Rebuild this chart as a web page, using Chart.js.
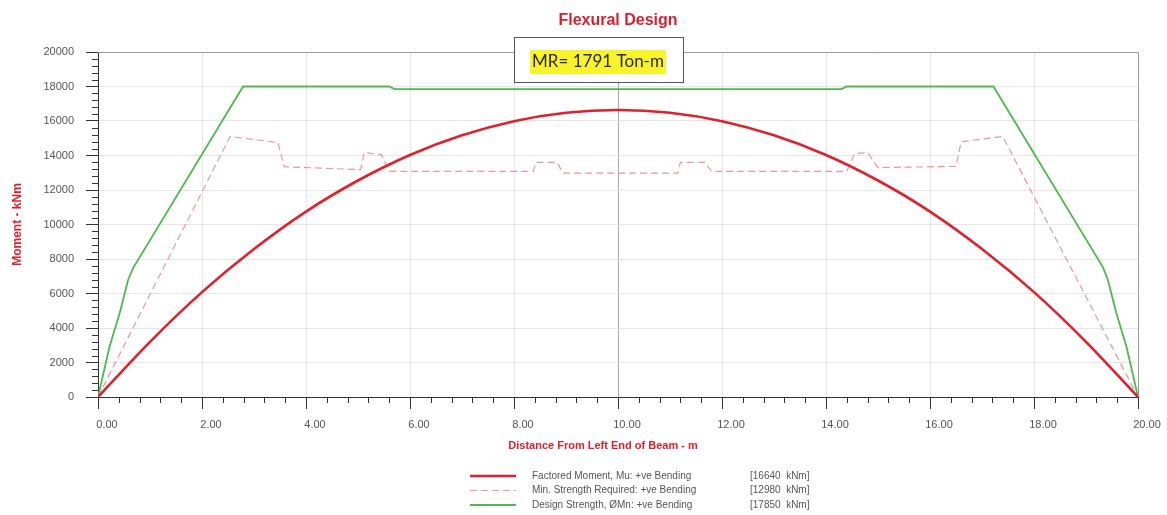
<!DOCTYPE html>
<html><head><meta charset="utf-8">
<script src="https://cdn.jsdelivr.net/npm/chart.js@4.4.1/dist/chart.umd.min.js"></script>
<style>html,body{margin:0;padding:0;background:#fff}canvas{display:block}</style>
</head><body>
<canvas id="c" width="1167" height="515"></canvas>
<script>
// ---------- data ----------
const chartTitle = 'Flexural Design';
const annotationText = 'MR= 1791 Ton-m';
const xAxisTitle = 'Distance From Left End of Beam - m';
const yAxisTitle = 'Moment - kNm';
const seriesNames = [
  'Factored Moment, Mu: +ve Bending',
  'Min. Strength Required: +ve Bending',
  'Design Strength, ØMn: +ve Bending'
];
const legendValues = ['[16640  kNm]', '[12980  kNm]', '[17850  kNm]'];

const xTickValues = [0, 2, 4, 6, 8, 10, 12, 14, 16, 18, 20];
const xTickLabels = ['0.00', '2.00', '4.00', '6.00', '8.00', '10.00', '12.00', '14.00', '16.00', '18.00', '20.00'];
const yTickValues = [0, 2000, 4000, 6000, 8000, 10000, 12000, 14000, 16000, 18000, 20000];
const yTickLabels = ['0', '2000', '4000', '6000', '8000', '10000', '12000', '14000', '16000', '18000', '20000'];

// Factored moment Mu
const momentX = [0, 1, 2, 3, 4, 5, 6, 7, 8, 9, 10, 11, 12, 13, 14, 15, 16, 17, 18, 19, 20];
const momentY = [0, 3200, 6080, 8580, 10750, 12550, 14030, 15170, 15990, 16480, 16640, 16480, 15990, 15170, 14030, 12550, 10750, 8580, 6080, 3200, 0];

// Min. strength required
const minX = [0, 2.54, 3.46, 3.58, 5.05, 5.12, 5.45, 5.6, 8.37, 8.42, 8.83, 8.94, 11.15, 11.2, 11.67, 11.8, 14.4, 14.55, 14.8, 15.0, 16.5, 16.6, 17.4, 20];
const minY = [0, 15100, 14750, 13350, 13180, 14170, 14050, 13080, 13080, 13600, 13600, 12980, 12980, 13600, 13600, 13080, 13080, 14110, 14170, 13300, 13370, 14800, 15100, 0];

// Design strength
const designX = [0, 0.22, 0.42, 0.58, 0.68, 2.79, 5.6, 5.7, 14.3, 14.4, 17.22, 19.33, 19.42, 19.58, 19.78, 20];
const designY = [0, 2900, 4900, 6800, 7500, 18000, 18000, 17850, 17850, 18000, 18000, 7500, 6800, 4900, 2900, 0];

// ---------- helpers ----------
const pts = (xs, ys) => xs.map((v, i) => ({x: v, y: ys[i]}));
const RED = '#e0202c';
const FONT = '"Liberation Sans", Arial, sans-serif';

const decor = {
  id: 'decor',
  beforeDraw(chart) {
    const {ctx} = chart;
    ctx.save();
    ctx.fillStyle = '#fff';
    ctx.fillRect(0, 0, chart.width, chart.height);
    ctx.restore();
  },
  afterDraw(chart) {
    const {ctx, chartArea: a, scales: {x, y}} = chart;
    ctx.save();
    // top & right frame
    ctx.strokeStyle = '#9a9a9a';
    ctx.lineWidth = 1;
    ctx.beginPath();
    ctx.moveTo(a.left, a.top + 0.5);
    ctx.lineTo(a.right + 0.5, a.top + 0.5);
    ctx.lineTo(a.right + 0.5, a.bottom);
    ctx.stroke();

    // minor ticks
    ctx.strokeStyle = '#333';
    ctx.beginPath();
    for (let k = 0; k <= 50; k++) {
      if (k % 5 === 0) continue;
      const py = Math.round(y.getPixelForValue(k * 400)) + 0.5;
      ctx.moveTo(a.left - 6, py); ctx.lineTo(a.left, py);
      const px = Math.round(x.getPixelForValue(k * 0.4)) + 0.5;
      ctx.moveTo(px, a.bottom); ctx.lineTo(px, a.bottom + 6);
    }
    ctx.stroke();

    // title
    ctx.fillStyle = '#d81f30';
    ctx.textAlign = 'center';
    ctx.textBaseline = 'middle';
    ctx.font = 'bold 16px ' + FONT;
    ctx.fillText(chartTitle, (a.left + a.right) / 2, 21);

    // axis titles
    ctx.fillStyle = RED;
    ctx.font = 'bold 11px ' + FONT;
    ctx.fillText(xAxisTitle, 603, 446);
    ctx.save();
    ctx.translate(18, (a.top + a.bottom) / 2);
    ctx.rotate(-Math.PI / 2);
    ctx.font = 'bold 12px ' + FONT;
    ctx.fillText(yAxisTitle, 0, 0);
    ctx.restore();

    // annotation box
    ctx.fillStyle = '#fff';
    ctx.fillRect(514, 37, 169, 45);
    ctx.strokeStyle = '#555';
    ctx.strokeRect(514.5, 37.5, 169, 45);
    ctx.font = '17px Lato, "Open Sans", sans-serif';
    const tw = ctx.measureText(annotationText).width;
    ctx.fillStyle = '#f8f32b';
    ctx.fillRect(598 - tw / 2 - 2, 50, tw + 4, 24);
    ctx.fillStyle = '#2b2b14';
    ctx.fillText(annotationText, 598, 62);

    // legend
    const ds = chart.data.datasets;
    ctx.font = '10px ' + FONT;
    ctx.textAlign = 'left';
    ds.forEach((d, i) => {
      const ry = 476 + i * 14.5;
      ctx.save();
      ctx.strokeStyle = d.borderColor;
      ctx.lineWidth = d.borderWidth;
      ctx.setLineDash(d.borderDash || []);
      ctx.beginPath();
      ctx.moveTo(470, ry); ctx.lineTo(516, ry);
      ctx.stroke();
      ctx.restore();
      ctx.fillStyle = '#555';
      ctx.fillText(seriesNames[i], 532, ry);
      ctx.fillText(legendValues[i], 750, ry);
    });
    ctx.restore();
  }
};

new Chart(document.getElementById('c'), {
  type: 'line',
  data: {
    datasets: [
      {label: seriesNames[0], data: pts(momentX, momentY), borderColor: RED, borderWidth: 2.6,
       pointRadius: 0, cubicInterpolationMode: 'monotone', fill: false},
      {label: seriesNames[1], data: pts(minX, minY), borderColor: '#ee949e', borderWidth: 1.2,
       borderDash: [7, 4], pointRadius: 0, tension: 0, fill: false},
      {label: seriesNames[2], data: pts(designX, designY), borderColor: '#4cba4c', borderWidth: 1.8,
       pointRadius: 0, tension: 0, fill: false}
    ]
  },
  options: {
    responsive: false,
    animation: false,
    layout: {padding: {left: 0, right: 29, top: 52, bottom: 0}},
    plugins: {legend: {display: false}, tooltip: {enabled: false}, title: {display: false}},
    scales: {
      x: {
        type: 'linear', min: 0, max: 20,
        afterFit: s => { s.height = 118; },
        afterBuildTicks: s => { s.ticks = xTickValues.map(v => ({value: v})); },
        ticks: {
          callback: (v) => xTickLabels[xTickValues.indexOf(v)],
          font: {family: FONT, size: 11}, color: '#555',
          padding: 9, labelOffset: 9, maxRotation: 0, autoSkip: false
        },
        grid: {
          color: c => (c.tick && c.tick.value === 10) ? '#a8a8a8' : '#e6e6e6',
          tickColor: '#333', tickLength: 12, drawTicks: true
        },
        border: {color: '#333', width: 1}
      },
      y: {
        type: 'linear', min: 0, max: 20000,
        afterFit: s => { s.width = 98; },
        afterBuildTicks: s => { s.ticks = yTickValues.map(v => ({value: v})); },
        ticks: {
          callback: (v) => yTickLabels[yTickValues.indexOf(v)],
          font: {family: FONT, size: 11}, color: '#555', padding: 12, autoSkip: false
        },
        grid: {color: '#e6e6e6', tickColor: '#333', tickLength: 12, drawTicks: true},
        border: {color: '#333', width: 1}
      }
    }
  },
  plugins: [decor]
});
</script>
</body></html>
